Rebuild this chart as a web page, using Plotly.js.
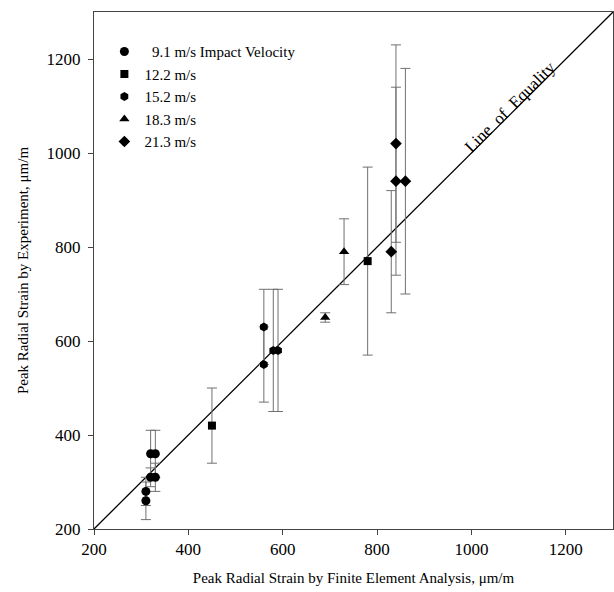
<!DOCTYPE html>
<html>
<head>
<meta charset="utf-8">
<script src="https://cdn.plot.ly/plotly-3.0.1.min.js"></script>
<style>html,body{margin:0;padding:0;background:#fff;}#chart{width:614px;height:592px;}</style>
</head>
<body>
<div id="chart"></div>
<script>
// 9.1 m/s impact velocity
const v91_fe  = [310, 310, 320, 330, 320, 330];
const v91_exp = [260, 280, 310, 310, 360, 360];
const v91_err = [40, 30, 20, 30, 50, 50];
// 12.2 m/s
const v122_fe  = [450, 780];
const v122_exp = [420, 770];
const v122_err = [80, 200];
// 15.2 m/s
const v152_fe  = [560, 560, 580, 590];
const v152_exp = [630, 550, 580, 580];
const v152_err = [80, 80, 130, 130];
// 18.3 m/s
const v183_fe  = [690, 730];
const v183_exp = [650, 790];
const v183_err = [10, 70];
// 21.3 m/s
const v213_fe  = [830, 840, 840, 860];
const v213_exp = [790, 1020, 940, 940];
const v213_err = [130, 210, 200, 240];

const seriesNames = ['\u00A0\u00A09.1 m/s Impact Velocity', '12.2 m/s', '15.2 m/s', '18.3 m/s', '21.3 m/s'];
const equalityLine = [200, 1300];
const tickVals = [200, 400, 600, 800, 1000, 1200];

const font = 'Liberation Serif, Times New Roman, serif';
function errBar(arr) {
  return {type: 'data', array: arr, visible: true, color: '#707070', thickness: 1, width: 5};
}
function mk(x, y, e, name, symbol, size) {
  return {
    x: x, y: y, name: name, type: 'scatter', mode: 'markers',
    marker: {symbol: symbol, size: size, color: '#000'},
    error_y: errBar(e)
  };
}

const traces = [
  {x: equalityLine, y: equalityLine, mode: 'lines', type: 'scatter', showlegend: false,
   line: {color: '#000', width: 1.3}, hoverinfo: 'skip'},
  mk(v91_fe, v91_exp, v91_err, seriesNames[0], 'circle', 9),
  mk(v122_fe, v122_exp, v122_err, seriesNames[1], 'square', 8),
  mk(v152_fe, v152_exp, v152_err, seriesNames[2], 'hexagon', 9),
  mk(v183_fe, v183_exp, v183_err, seriesNames[3], 'triangle-up', 9),
  mk(v213_fe, v213_exp, v213_err, seriesNames[4], 'diamond', 9)
];

const axisCommon = {
  range: [200, 1300], tickvals: tickVals, ticks: 'outside', ticklen: 5, tickwidth: 1,
  tickcolor: '#444', showline: true, linecolor: '#444', linewidth: 1, mirror: true,
  showgrid: false, zeroline: false, tickfont: {family: font, size: 17, color: '#000'}
};

const layout = {
  width: 614, height: 592,
  margin: {l: 94, r: 1, t: 12, b: 63},
  paper_bgcolor: '#fff', plot_bgcolor: '#fff',
  font: {family: font, size: 15, color: '#000'},
  xaxis: Object.assign({}, axisCommon, {
    title: {text: 'Peak Radial Strain by Finite Element Analysis, \u03BCm/m', font: {family: font, size: 15}, standoff: 14}
  }),
  yaxis: Object.assign({}, axisCommon, {
    ticklabelstandoff: 4,
    title: {text: 'Peak Radial Strain by Experiment, \u03BCm/m', font: {family: font, size: 15}, standoff: 14}
  }),
  legend: {x: 0.02, y: 0.955, xanchor: 'left', yanchor: 'top', bgcolor: 'rgba(0,0,0,0)',
           font: {family: font, size: 15}, itemwidth: 30},
  annotations: [{
    x: 1081, y: 1097, xref: 'x', yref: 'y', text: 'Line\u00A0\u00A0of\u00A0\u00A0Equality',
    showarrow: false, textangle: -45, font: {family: font, size: 17, color: '#000'}
  }]
};

Plotly.newPlot('chart', traces, layout, {displayModeBar: false, staticPlot: true});
</script>
</body>
</html>
